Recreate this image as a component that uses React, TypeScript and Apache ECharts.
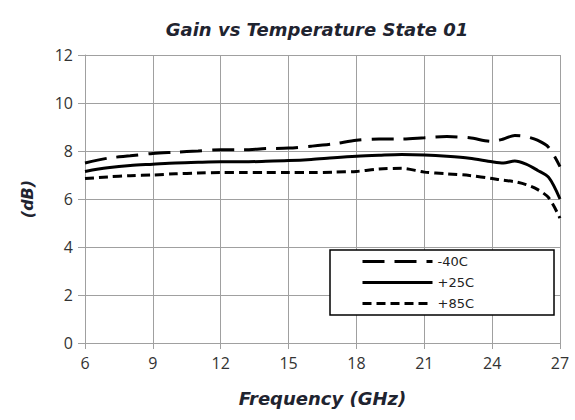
import React, { useEffect, useRef } from "react";
import * as echarts from "echarts";

const freqs = [6, 7, 8, 9, 10, 11, 12, 13, 14, 15, 16, 17, 18, 19, 20, 21, 22, 23, 24, 24.5, 25, 25.5, 26, 26.5, 27];
const gainM40 = [7.5, 7.7, 7.8, 7.9, 7.95, 8.0, 8.05, 8.05, 8.1, 8.12, 8.2, 8.3, 8.45, 8.5, 8.5, 8.55, 8.6, 8.55, 8.4, 8.5, 8.65, 8.6, 8.45, 8.15, 7.35];
const gainP25 = [7.15, 7.3, 7.4, 7.45, 7.5, 7.53, 7.55, 7.55, 7.57, 7.6, 7.65, 7.72, 7.78, 7.82, 7.85, 7.83, 7.78, 7.7, 7.55, 7.5, 7.58, 7.45, 7.2, 6.9, 6.0];
const gainP85 = [6.85, 6.92, 6.97, 7.0, 7.05, 7.08, 7.1, 7.1, 7.1, 7.1, 7.1, 7.12, 7.15, 7.25, 7.28, 7.12, 7.05, 6.98, 6.85, 6.78, 6.72, 6.6, 6.4, 6.05, 5.2];
const seriesNames = ["-40C", "+25C", "+85C"];

const pair = (ys: number[]) => freqs.map((f, i) => [f, ys[i]]);

export default function App() {
  const ref = useRef<HTMLDivElement>(null);
  useEffect(() => {
    const chart = echarts.init(ref.current!, undefined, { renderer: "svg" });
    const headFont = "'DejaVu Sans', sans-serif";
    const tickFont = "'Open Sans', 'Liberation Sans', sans-serif";
    const mk = (name: string, ys: number[], type: any) => ({
      name,
      type: "line",
      data: pair(ys),
      showSymbol: false,
      symbol: "none",
      smooth: 0.3,
      lineStyle: { color: "#000", width: 3, type, cap: "butt" },
      itemStyle: { color: "#000", opacity: 0 },
    });
    chart.setOption({
      animation: false,
      backgroundColor: "#fff",
      title: {
        text: "Gain vs Temperature State 01",
        left: 312,
        top: 15,
        textAlign: "center",
        textStyle: { fontFamily: headFont, fontSize: 18, fontWeight: "bold", fontStyle: "italic", color: "#1f2430" },
      },
      grid: { left: 85, right: 15, top: 55, bottom: 77 },
      xAxis: {
        type: "value",
        min: 6,
        max: 27,
        interval: 3,
        name: "Frequency (GHz)",
        nameLocation: "middle",
        nameGap: 46,
        nameTextStyle: { fontFamily: headFont, fontSize: 18, fontWeight: "bold", fontStyle: "italic", color: "#1f2430" },
        axisLine: { lineStyle: { color: "#a0a0a0", width: 1 } },
        axisTick: { show: true, inside: false, length: 6, lineStyle: { color: "#a0a0a0" } },
        axisLabel: { fontFamily: tickFont, fontSize: 16, color: "#333", margin: 12 },
        splitLine: { show: true, lineStyle: { color: "#a0a0a0", width: 1 } },
      },
      yAxis: {
        type: "value",
        min: 0,
        max: 12,
        interval: 2,
        name: "(dB)",
        nameLocation: "middle",
        nameGap: 50,
        nameRotate: 90,
        nameTextStyle: { fontFamily: headFont, fontSize: 16, fontWeight: "bold", fontStyle: "italic", color: "#1f2430" },
        axisLine: { show: true, lineStyle: { color: "#a0a0a0", width: 1 } },
        axisTick: { show: true, inside: false, length: 7, lineStyle: { color: "#a0a0a0" } },
        axisLabel: { fontFamily: tickFont, fontSize: 16, color: "#333", margin: 12 },
        splitLine: { show: true, lineStyle: { color: "#a0a0a0", width: 1 } },
      },
      legend: {
        data: seriesNames,
        orient: "vertical",
        left: 330,
        top: 250,
        padding: [5, 80, 5, 31],
        itemWidth: 70,
        itemHeight: 14,
        itemGap: 8,
        itemStyle: { opacity: 0 },
        lineStyle: { width: 3 },
        backgroundColor: "#fff",
        borderColor: "#000",
        borderWidth: 1.5,
        borderRadius: 0,
        textStyle: { fontFamily: headFont, fontSize: 13, color: "#222" },
      },
      series: [
        mk(seriesNames[0], gainM40, [22, 10]),
        mk(seriesNames[1], gainP25, "solid"),
        mk(seriesNames[2], gainP85, [9, 5]),
      ],
    });
    return () => chart.dispose();
  }, []);
  return <div ref={ref} style={{ width: 575, height: 420, position: "absolute", left: 0, top: 0 }} />;
}
